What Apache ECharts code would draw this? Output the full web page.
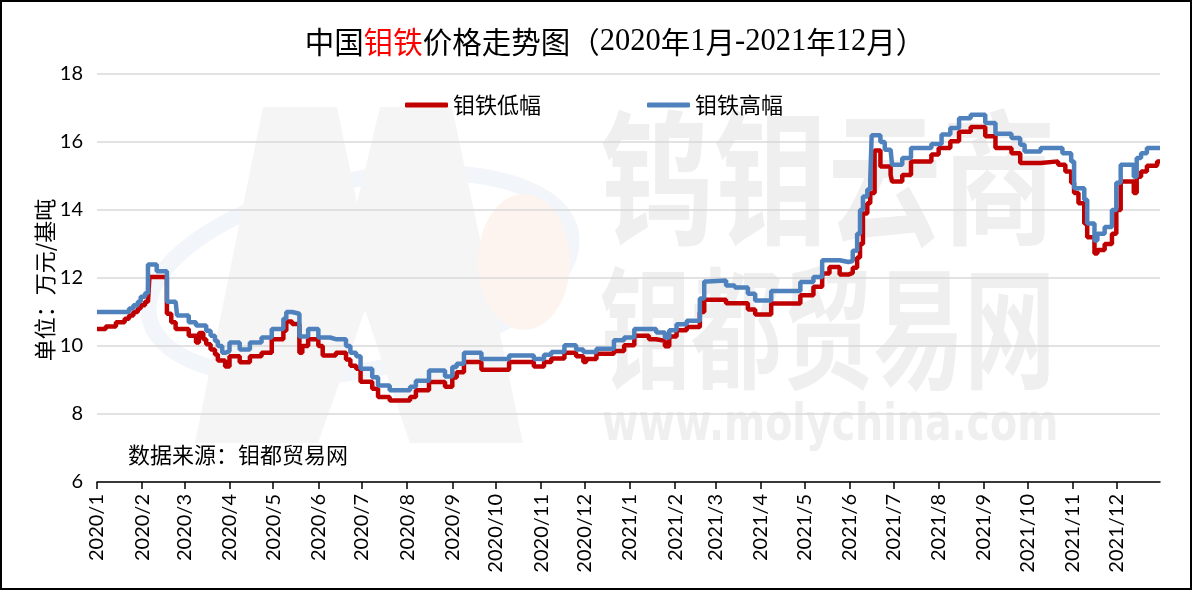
<!DOCTYPE html>
<html><head><meta charset="utf-8">
<script src="https://cdn.jsdelivr.net/npm/echarts@6/dist/echarts.min.js"></script>
<style>html,body{margin:0;padding:0;background:#fff}#c{width:1193px;height:591px}</style>
</head><body><div id="c"></div>
<script>
// change points of the daily price series (value holds until the next date)
const dates = [
'2020-01-01','2020-01-07','2020-01-14','2020-01-20','2020-01-23','2020-01-26','2020-01-29','2020-01-31',
'2020-02-03','2020-02-05','2020-02-06','2020-02-11','2020-02-18','2020-02-21','2020-02-24','2020-02-25',
'2020-03-04','2020-03-09','2020-03-11','2020-03-14','2020-03-16','2020-03-19','2020-03-22','2020-03-24',
'2020-03-27','2020-03-29','2020-04-01','2020-04-08','2020-04-15','2020-04-23','2020-04-30','2020-05-08',
'2020-05-10','2020-05-14','2020-05-19','2020-05-21','2020-05-25','2020-06-01','2020-06-04','2020-06-09',
'2020-06-13','2020-06-20','2020-06-23','2020-06-27','2020-06-30','2020-07-08','2020-07-12','2020-07-20',
'2020-08-03','2020-08-07','2020-08-16','2020-08-27','2020-09-01','2020-09-04','2020-09-09','2020-09-21',
'2020-10-10','2020-10-27','2020-11-03','2020-11-08','2020-11-17','2020-11-25','2020-11-30','2020-12-02',
'2020-12-09','2020-12-21','2020-12-28','2021-01-04','2021-01-14','2021-01-19','2021-01-25','2021-01-28',
'2021-02-02','2021-02-09','2021-02-18','2021-02-21','2021-02-23','2021-03-08','2021-03-14','2021-03-23',
'2021-03-28','2021-04-08','2021-04-28','2021-05-07','2021-05-13','2021-05-18','2021-05-25','2021-05-31',
'2021-06-03','2021-06-06','2021-06-08','2021-06-10','2021-06-13','2021-06-15','2021-06-16','2021-06-18',
'2021-06-22','2021-06-25','2021-06-29','2021-06-30','2021-07-07','2021-07-13','2021-07-27','2021-08-01',
'2021-08-03','2021-08-09','2021-08-15','2021-08-23','2021-09-02','2021-09-09','2021-09-20','2021-09-26',
'2021-09-29','2021-10-10','2021-10-22','2021-10-25','2021-10-27','2021-10-31','2021-11-02','2021-11-05',
'2021-11-09','2021-11-11','2021-11-16','2021-11-18','2021-11-23','2021-11-28','2021-12-01','2021-12-04',
'2021-12-13','2021-12-15','2021-12-18','2021-12-22','2021-12-29','2021-12-31'
];
const lowPrices = [
10.5,10.57,10.7,10.8,10.9,11.0,11.1,11.2,
11.3,11.34,12.03,12.03,10.95,10.7,10.5,10.5,
10.3,10.1,10.38,10.2,10.05,9.9,9.75,9.57,
9.57,9.4,9.7,9.52,9.7,9.8,10.2,10.45,
10.72,10.65,9.8,10.0,10.2,10.0,9.72,9.72,
9.8,9.6,9.42,9.33,8.95,8.74,8.5,8.4,
8.5,8.7,8.94,8.8,9.07,9.23,9.53,9.3,
9.53,9.4,9.53,9.63,9.8,9.7,9.53,9.62,
9.77,9.85,10.02,10.3,10.2,10.15,9.99,10.28,
10.46,10.56,11.0,11.36,11.36,11.26,11.26,11.07,
10.93,11.25,11.49,11.74,12.13,12.32,12.1,12.15,
12.3,12.6,13.0,13.9,14.2,14.5,14.5,15.75,
15.28,15.28,15.03,14.84,15.03,15.43,15.63,15.82,
15.82,16.02,16.3,16.44,16.17,15.82,15.67,15.38,
15.38,15.43,15.33,15.33,15.13,14.8,14.5,14.2,
13.6,13.2,12.72,12.82,13.0,13.3,14.0,14.84,
14.5,14.98,15.13,15.3,15.43,15.43
];
const highPrices = [
11.0,11.0,11.0,11.0,11.1,11.2,11.3,11.45,
11.55,12.4,12.4,12.2,11.3,11.3,11.3,10.9,
10.7,10.6,10.6,10.6,10.45,10.3,10.15,10.0,
9.8,9.85,10.1,9.9,10.1,10.25,10.5,10.8,
11.0,10.95,10.28,10.28,10.5,10.25,10.25,10.2,
10.2,10.0,9.8,9.7,9.33,9.08,8.84,8.7,
8.8,8.98,9.28,9.1,9.38,9.48,9.8,9.62,
9.72,9.62,9.74,9.82,10.02,9.9,9.82,9.82,
9.92,10.17,10.25,10.5,10.5,10.4,10.25,10.46,
10.64,10.74,11.4,11.9,11.93,11.78,11.72,11.54,
11.34,11.62,11.88,12.03,12.52,12.52,12.47,12.5,
12.8,13.3,14.0,14.4,14.6,14.84,16.2,16.2,
16.0,15.77,15.77,15.33,15.53,15.82,15.94,15.94,
16.22,16.41,16.7,16.8,16.56,16.24,16.12,15.92,
15.72,15.82,15.82,15.67,15.67,15.43,14.64,14.64,
14.3,13.6,13.1,13.3,13.5,14.0,14.8,15.33,
14.98,15.53,15.67,15.82,15.82,15.82
];
const yTicks = [6, 8, 10, 12, 14, 16, 18];
const seriesNames = ['钼铁低幅', '钼铁高幅'];

const chart = echarts.init(document.getElementById('c'));
const CJK = '"Noto Sans CJK SC", sans-serif';
const wmText = '#efefef';
const option = {
  animation: false,
  backgroundColor: '#fff',
  grid: { left: 97, right: 33, top: 74, bottom: 109, containLabel: false },
  legend: {
    left: 405, top: 94, padding: 0, itemGap: 106, itemWidth: 43, itemHeight: 5,
    icon: 'roundRect',
    textStyle: { fontSize: 22, fontFamily: CJK, color: '#000' },
    data: seriesNames
  },
  xAxis: {
    type: 'time', min: '2020-01-01', max: '2021-12-31',
    minInterval: 30 * 86400000, maxInterval: 30 * 86400000,
    axisLine: { show: true, lineStyle: { color: '#000', width: 1.5 } },
    axisTick: { show: true, length: 7, lineStyle: { color: '#000', width: 1.5 } },
    axisLabel: { rotate: 90, formatter: '{yyyy}/{M}', fontSize: 20, fontFamily: 'Lato', color: '#000',
      margin: 12, showMaxLabel: false, hideOverlap: false },
    splitLine: { show: false }
  },
  yAxis: {
    type: 'value', min: yTicks[0], max: yTicks[yTicks.length - 1], interval: yTicks[1] - yTicks[0],
    axisLine: { show: false }, axisTick: { show: false },
    axisLabel: { fontSize: 20, fontFamily: 'Lato', color: '#000', margin: 14 },
    splitLine: { lineStyle: { color: '#d9d9d9', width: 1.5 } }
  },
  series: [
    { name: seriesNames[0], type: 'line', step: 'end', showSymbol: false, z: 3,
      itemStyle: { color: '#C00000' }, lineStyle: { color: '#C00000', width: 4.5 },
      data: dates.map((d, i) => [d, lowPrices[i]]) },
    { name: seriesNames[1], type: 'line', step: 'end', showSymbol: false, z: 4,
      itemStyle: { color: '#4F81BD' }, lineStyle: { color: '#4F81BD', width: 4.5 },
      data: dates.map((d, i) => [d, highPrices[i]]) }
  ],
  graphic: [
    // watermark logo
    { type: 'ellipse', z: -10, shape: { cx: 360, cy: 275, rx: 215, ry: 95 }, rotation: 0.2, originX: 360, originY: 275,
      style: { fill: 'none', stroke: '#f2f5fa', lineWidth: 16 } },
    { type: 'polygon', z: -9, shape: { points: [[195,443],[263,107],[337,107],[357,203],[380,107],[452,107],[523,443],[410,443],[365,310],[318,443]] },
      style: { fill: '#f5f5f5' } },
    { type: 'ellipse', z: -8, shape: { cx: 524, cy: 262, rx: 46, ry: 68 }, style: { fill: '#fdf4f0' } },
    { type: 'text', z: -9, x: 600, y: 105, scaleX: 0.78, style: { text: '钨钼云商', fontSize: 146, fontWeight: 'bold', fontFamily: CJK, fill: wmText, align: 'left', verticalAlign: 'top' } },
    { type: 'text', z: -9, x: 600, y: 262, scaleX: 0.69, style: { text: '钼都贸易网', fontSize: 132, fontWeight: 'bold', fontFamily: CJK, fill: wmText, align: 'left', verticalAlign: 'top' } },
    { type: 'text', z: -9, x: 602, y: 400, scaleX: 0.76, style: { text: 'www.molychina.com', fontSize: 52, fontWeight: 'bold', fontFamily: '"DejaVu Sans", sans-serif', fill: wmText, align: 'left', verticalAlign: 'top' } },
    // title
    { type: 'text', x: 615, y: 42, style: {
        text: '{a|中国}{r|钼铁}{a|价格走势图（}{n|2020}{a|年}{n|1}{a|月}{n|-2021}{a|年}{n|12}{a|月）}',
        align: 'center', verticalAlign: 'middle',
        rich: {
          a: { fontSize: 29.5, fontFamily: CJK, fill: '#000' },
          r: { fontSize: 29.5, fontFamily: CJK, fill: '#ff0000' },
          n: { fontSize: 30.5, fontFamily: '"Liberation Serif", serif', fill: '#000' }
        } } },
    // y axis unit
    { type: 'text', x: 45, y: 280, rotation: Math.PI / 2, style: { text: '单位：万元/基吨', fontSize: 22, fontFamily: CJK, fill: '#000', align: 'center', verticalAlign: 'middle' } },
    // source
    { type: 'text', x: 128, y: 455, style: { text: '数据来源：钼都贸易网', fontSize: 22, fontFamily: CJK, fill: '#000', align: 'left', verticalAlign: 'middle' } },
    // frame
    { type: 'rect', z: 100, shape: { x: 1, y: 1, width: 1190, height: 588 }, style: { fill: 'none', stroke: '#000', lineWidth: 2 } }
  ]
};
chart.setOption(option);
</script>
</body></html>
